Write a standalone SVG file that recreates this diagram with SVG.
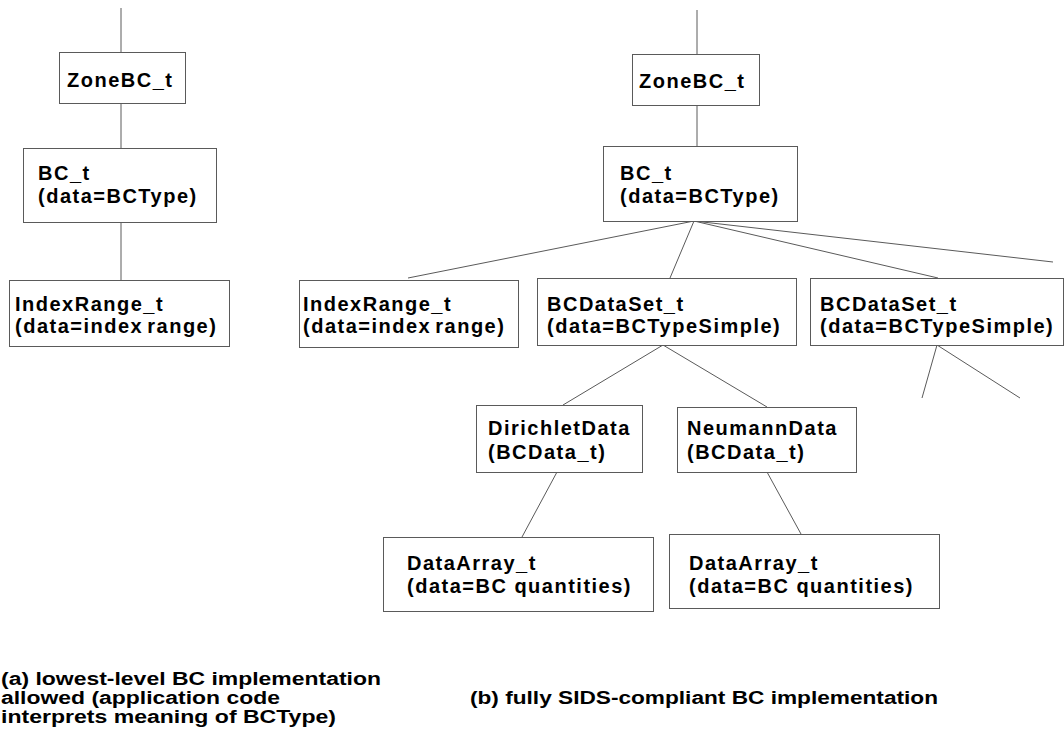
<svg xmlns="http://www.w3.org/2000/svg" width="1064" height="738" viewBox="0 0 1064 738">
<style>
.box{fill:#fff;stroke:#5a5a5a;stroke-width:1}
.t{font-family:"Liberation Sans",Arial,sans-serif;font-weight:bold;font-size:20px;letter-spacing:1.5px;fill:#000}
.cap{font-family:"Liberation Sans",Arial,sans-serif;font-weight:bold;font-size:18px;fill:#000}
.c{stroke:#5a5a5a;stroke-width:1;fill:none}
</style>
<rect width="1064" height="738" fill="#fff"/>
<g id="connectors">
<line class="c" x1="121" y1="8" x2="121" y2="52"/>
<line class="c" x1="121" y1="103" x2="121" y2="148"/>
<line class="c" x1="121" y1="222" x2="121" y2="280"/>
<line class="c" x1="697" y1="10" x2="697" y2="54"/>
<line class="c" x1="697" y1="105" x2="697" y2="146"/>
<line class="c" x1="694" y1="221" x2="408" y2="278"/>
<line class="c" x1="694" y1="221" x2="670" y2="278"/>
<line class="c" x1="694" y1="221" x2="938" y2="278"/>
<line class="c" x1="694" y1="221" x2="1053" y2="262"/>
<line class="c" x1="663" y1="345" x2="563" y2="405"/>
<line class="c" x1="663" y1="345" x2="767" y2="407"/>
<line class="c" x1="937" y1="345" x2="922" y2="398"/>
<line class="c" x1="937" y1="345" x2="1020" y2="398"/>
<line class="c" x1="557" y1="472" x2="522" y2="537"/>
<line class="c" x1="767" y1="472" x2="801" y2="534"/>
</g>
<g id="a-zone">
<rect class="box" x="59.5" y="52.5" width="126" height="51"/>
<text class="t" x="67" y="87">ZoneBC_t</text>
</g>
<g id="a-bc">
<rect class="box" x="23.5" y="148.5" width="193" height="74"/>
<text class="t" x="38" y="180">BC_t</text>
<text class="t" x="38" y="203">(data=BCType)</text>
</g>
<g id="a-indexrange">
<rect class="box" x="9.5" y="280.5" width="220" height="66"/>
<text class="t" x="15" y="311">IndexRange_t</text>
<text class="t" x="15" y="333" word-spacing="-3">(data=index range)</text>
</g>
<g id="b-zone">
<rect class="box" x="632.5" y="54.5" width="127" height="51"/>
<text class="t" x="639" y="88">ZoneBC_t</text>
</g>
<g id="b-bc">
<rect class="box" x="603.5" y="146.5" width="194" height="75"/>
<text class="t" x="620" y="180">BC_t</text>
<text class="t" x="620" y="203">(data=BCType)</text>
</g>
<g id="b-indexrange">
<rect class="box" x="299.5" y="280.5" width="219" height="67"/>
<text class="t" x="303" y="311">IndexRange_t</text>
<text class="t" x="303" y="333" word-spacing="-3">(data=index range)</text>
</g>
<g id="b-bcdataset1">
<rect class="box" x="537.5" y="278.5" width="259" height="67"/>
<text class="t" x="547" y="311">BCDataSet_t</text>
<text class="t" x="547" y="333">(data=BCTypeSimple)</text>
</g>
<g id="b-bcdataset2">
<rect class="box" x="810.5" y="278.5" width="253" height="67"/>
<text class="t" x="820" y="311">BCDataSet_t</text>
<text class="t" x="820" y="333">(data=BCTypeSimple)</text>
</g>
<g id="b-dirichlet">
<rect class="box" x="476.5" y="405.5" width="166" height="67"/>
<text class="t" x="488" y="435">DirichletData</text>
<text class="t" x="488" y="459">(BCData_t)</text>
</g>
<g id="b-neumann">
<rect class="box" x="677.5" y="407.5" width="179" height="65"/>
<text class="t" x="687" y="435">NeumannData</text>
<text class="t" x="687" y="459">(BCData_t)</text>
</g>
<g id="b-dataarray1">
<rect class="box" x="383.5" y="537.5" width="270" height="74"/>
<text class="t" x="407" y="570">DataArray_t</text>
<text class="t" x="407" y="593">(data=BC quantities)</text>
</g>
<g id="b-dataarray2">
<rect class="box" x="669.5" y="534.5" width="270" height="74"/>
<text class="t" x="689" y="570">DataArray_t</text>
<text class="t" x="689" y="593">(data=BC quantities)</text>
</g>
<g id="captions">
<text class="cap" x="1" y="685" textLength="380" lengthAdjust="spacingAndGlyphs">(a) lowest-level BC implementation</text>
<text class="cap" x="1" y="704" textLength="279" lengthAdjust="spacingAndGlyphs">allowed (application code</text>
<text class="cap" x="1" y="723" textLength="335" lengthAdjust="spacingAndGlyphs">interprets meaning of BCType)</text>
<text class="cap" x="470" y="704" textLength="468" lengthAdjust="spacingAndGlyphs">(b) fully SIDS-compliant BC implementation</text>
</g>
</svg>
